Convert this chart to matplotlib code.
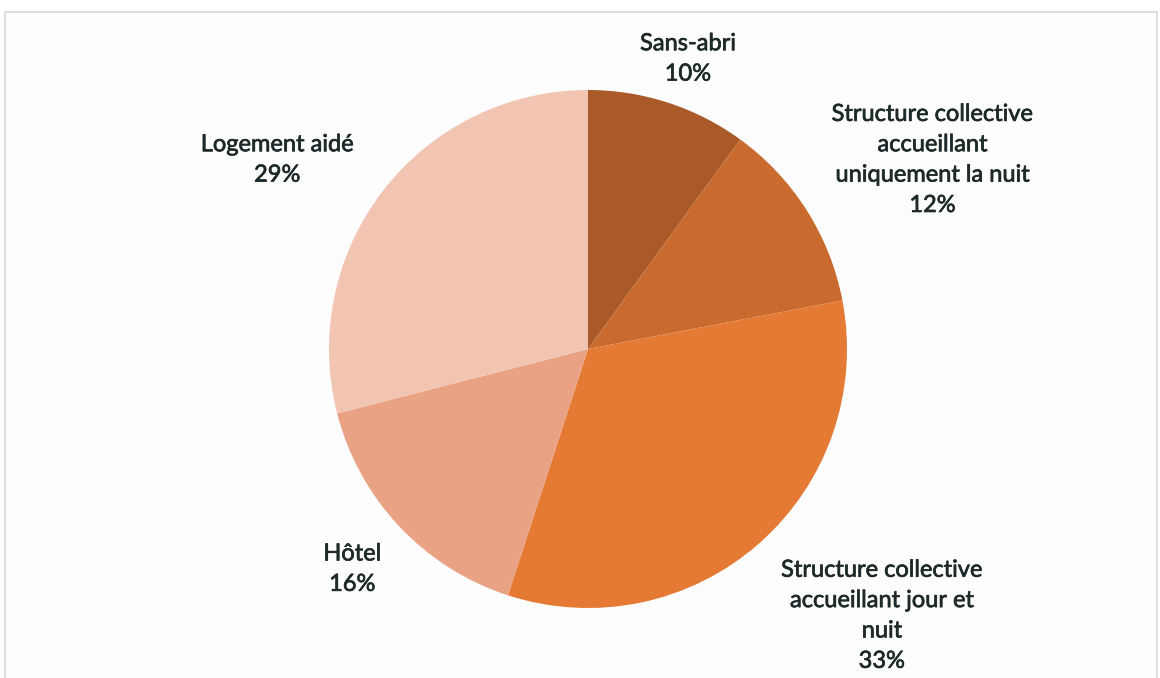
import matplotlib.pyplot as plt
import matplotlib.patheffects as pe
from matplotlib.patches import Rectangle

# Data
categories = ['Sans-abri',
              'Structure collective\naccueillant\nuniquement la nuit',
              'Structure collective\naccueillant jour et\nnuit',
              'Hôtel',
              'Logement aidé']
shares = [10, 12, 33, 16, 29]
colors = ['#A95A28', '#C96B2F', '#E57A35', '#E9A283', '#F2C5B3']

# label positions (in pie radius units)
label_pos = [(0.386, 1.12), (1.33, 0.73), (1.135, -1.03), (-0.91, -0.85), (-1.20, 0.73)]

plt.rcParams['font.family'] = ['Lato', 'DejaVu Sans']

fig = plt.figure(figsize=(11.6, 6.78), dpi=100)
fig.patch.set_facecolor('white')

# light frame of the chart area
fig.patches.append(Rectangle((5 / 1160, -0.01), 1 - 8 / 1160, 1 - 12 / 678 + 0.01,
                             transform=fig.transFigure, facecolor='#FDFDFD',
                             edgecolor='#D5D9DC', linewidth=1.2, zorder=-5))

ax = fig.add_axes([0, 0, 1, 1])
ax.set_facecolor('none')
ax.set_zorder(2)

wedges, _ = ax.pie(shares, colors=colors, startangle=90, counterclock=False,
                   radius=1.0, center=(0, 0), frame=True,
                   wedgeprops=dict(linewidth=0))

ax.set_xlim(-588 / 259, (1160 - 588) / 259)
ax.set_ylim((349 - 678) / 259, 349 / 259)
ax.set_aspect('auto')
ax.axis('off')

for name, val, (x, y) in zip(categories, shares, label_pos):
    ax.text(x, y, f'{name}\n{val}%', ha='center', va='center',
            fontsize=17, color='#1E2A2A', linespacing=1.55,
            path_effects=[pe.withStroke(linewidth=0.5, foreground='#1E2A2A')])

plt.savefig('out.png', dpi=100)
